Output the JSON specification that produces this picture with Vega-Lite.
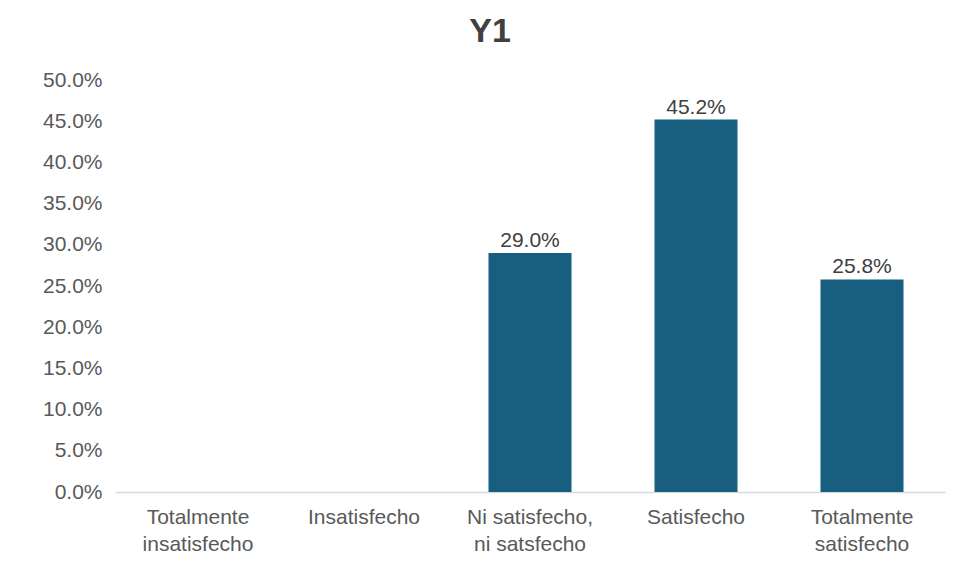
{
  "$schema": "https://vega.github.io/schema/vega-lite/v6.json",
  "autosize": "none",
  "width": 830,
  "height": 412,
  "padding": {"left": 115, "top": 80, "right": 10, "bottom": 89},
  "background": "white",
  "title": {"text": "Y1", "fontSize": 34, "font": "Liberation Sans", "fontWeight": "bold", "color": "#404040", "anchor": "middle", "dx": -40, "offset": 20},
  "config": {"view": {"stroke": null}, "font": "Liberation Sans"},
  "data": {"values": [
    {"cat": "Totalmente\ninsatisfecho", "value": 0},
    {"cat": "Insatisfecho", "value": 0},
    {"cat": "Ni satisfecho,\nni satsfecho", "value": 0.29},
    {"cat": "Satisfecho", "value": 0.452},
    {"cat": "Totalmente\nsatisfecho", "value": 0.258}
  ]},
  "encoding": {
    "x": {"field": "cat", "type": "nominal", "sort": null,
      "scale": {"paddingInner": 0.5, "paddingOuter": 0.25},
      "axis": {"title": null, "labelAngle": 0, "labelExpr": "split(datum.label, '\\n')", "labelFontSize": 21, "labelColor": "#595959", "labelPadding": 14, "labelLineHeight": 27, "ticks": false, "domainColor": "#d9d9d9", "domainWidth": 1.5, "labelBaseline": "top"}},
    "y": {"field": "value", "type": "quantitative",
      "scale": {"domain": [0, 0.5]},
      "axis": {"title": null, "format": ".1%", "values": [0, 0.05, 0.1, 0.15, 0.2, 0.25, 0.3, 0.35, 0.4, 0.45, 0.5], "grid": false, "domain": false, "ticks": false, "labelFontSize": 21, "labelColor": "#595959", "labelPadding": 13}}
  },
  "layer": [
    {"mark": {"type": "bar", "color": "#175e7f"}},
    {"transform": [{"filter": "datum.value > 0"}],
     "mark": {"type": "text", "baseline": "bottom", "dy": -2, "fontSize": 21, "color": "#404040"},
     "encoding": {"text": {"field": "value", "type": "quantitative", "format": ".1%"}}}
  ]
}
